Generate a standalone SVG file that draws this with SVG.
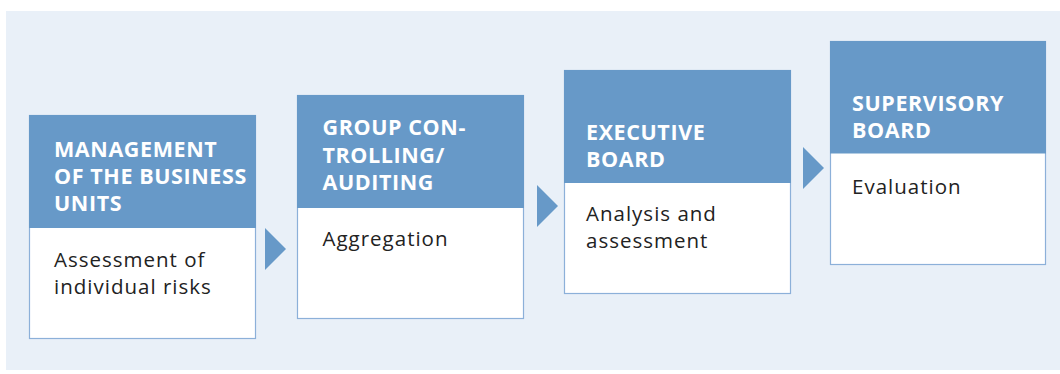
<svg xmlns="http://www.w3.org/2000/svg" width="1060" height="374" viewBox="0 0 1060 374">
<style>
.bg{fill:#e9f0f8}
.hd{fill:#6799c8}
.bd{fill:#ffffff;stroke:#8cb0d9;stroke-width:1.2}
.ht{font-family:"Open Sans","Liberation Sans",sans-serif;font-weight:bold;font-size:21.5px;letter-spacing:0.6px;fill:#ffffff}
.bt{font-family:"Open Sans","Liberation Sans",sans-serif;font-size:20.5px;letter-spacing:1px;fill:#222222}
.ar{fill:#6799c8}
</style>
<rect class="bg" x="6" y="11" width="1054" height="359"/>
<g id="node1">
<rect class="bd" x="29.5" y="115.5" width="226" height="223"/>
<rect class="hd" x="29" y="115" width="227" height="113"/>
<text class="ht" x="54" y="157">MANAGEMENT</text>
<text class="ht" x="54" y="184">OF THE BUSINESS</text>
<text class="ht" x="54" y="211">UNITS</text>
<text class="bt" x="54" y="266.5">Assessment of</text>
<text class="bt" x="54" y="293.5">individual risks</text>
</g>
<g id="node2">
<rect class="bd" x="297.5" y="95.5" width="226" height="223"/>
<rect class="hd" x="297" y="95" width="227" height="113"/>
<text class="ht" x="322.5" y="135">GROUP CON-</text>
<text class="ht" x="322.5" y="162.5">TROLLING/</text>
<text class="ht" x="322.5" y="190">AUDITING</text>
<text class="bt" x="322.5" y="246">Aggregation</text>
</g>
<g id="node3">
<rect class="bd" x="564.5" y="70.5" width="226" height="223"/>
<rect class="hd" x="564" y="70" width="227" height="113"/>
<text class="ht" x="586" y="140">EXECUTIVE</text>
<text class="ht" x="586" y="166.5">BOARD</text>
<text class="bt" x="586" y="221">Analysis and</text>
<text class="bt" x="586" y="248">assessment</text>
</g>
<g id="node4">
<rect class="bd" x="830.5" y="41.5" width="215" height="223"/>
<rect class="hd" x="830" y="41" width="216" height="112.5"/>
<text class="ht" x="852" y="111">SUPERVISORY</text>
<text class="ht" x="852" y="137.5">BOARD</text>
<text class="bt" x="852" y="193.5">Evaluation</text>
</g>
<g id="connectors">
<polygon class="ar" points="265,228 286,249 265,270"/>
<polygon class="ar" points="537,185 558,206 537,227"/>
<polygon class="ar" points="803,147 824,168 803,189"/>
</g>
</svg>
